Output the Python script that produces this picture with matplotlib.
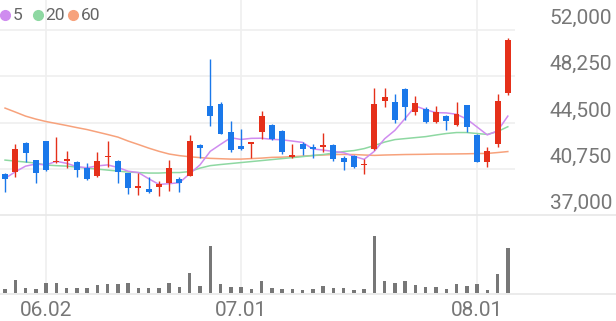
import numpy as np
import pandas as pd
import matplotlib
matplotlib.use('Agg')
import matplotlib.pyplot as plt
from matplotlib.lines import Line2D

plt.rcParams['font.family'] = ['Roboto', 'DejaVu Sans']

# trading days (MM.DD), 2025-05-27 .. 2025-08-06
dates = ['05.27', '05.28', '05.29', '05.30',
         '06.02', '06.04', '06.05', '06.09', '06.10', '06.11', '06.12', '06.13',
         '06.16', '06.17', '06.18', '06.19', '06.20', '06.23', '06.24', '06.25',
         '06.26', '06.27', '06.30',
         '07.01', '07.02', '07.03', '07.04', '07.07', '07.08', '07.09', '07.10',
         '07.11', '07.14', '07.15', '07.16', '07.17', '07.18', '07.21', '07.22',
         '07.23', '07.24', '07.25', '07.28', '07.29', '07.30', '07.31',
         '08.01', '08.04', '08.05', '08.06']
tick_labels = ['06.02', '07.01', '08.01']

opens = [40350, 40500, 42850, 41450, 43000, 41300, 41400, 41350, 40800, 40150,
         41700, 41400, 40400, 39250, 39100, 39300, 39600, 39900, 40200, 42700,
         45850, 46050, 43750, 42650, 42750, 43750, 44350, 43850, 41700, 42750,
         42500, 42500, 42700, 41650, 41800, 41050, 42350, 46250, 46200, 47200,
         45400, 45600, 44550, 45050, 44300, 45900, 43500, 41350, 42800, 46900]
highs = [40400, 42750, 42900, 41500, 43050, 43300, 42200, 41400, 41200, 42100,
         43050, 41450, 40450, 40400, 40100, 39750, 41450, 40100, 43500, 42750,
         49650, 46150, 44650, 43950, 42950, 45450, 44400, 43900, 42750, 42950,
         42750, 43650, 42750, 41800, 41850, 41550, 47300, 47300, 46800, 47300,
         46650, 45750, 45850, 45100, 46200, 45950, 43550, 42500, 46800, 51350]
lows = [38900, 40100, 41300, 39600, 40600, 41250, 40800, 40100, 39850, 40100,
        40900, 39650, 38700, 38650, 38800, 38550, 38950, 38900, 40150, 41600,
        44200, 43550, 42150, 42300, 41600, 43150, 43100, 41950, 41650, 41900,
        41600, 42100, 41400, 40650, 40850, 40350, 42300, 45750, 44450, 44750,
        45100, 44500, 44450, 43900, 44250, 43750, 41300, 40950, 42550, 46700]
closes = [39950, 42350, 42050, 40400, 40650, 41400, 41550, 40700, 39950, 41400,
          41800, 40500, 39200, 39400, 38900, 39500, 40800, 39600, 43050, 42450,
          45000, 43600, 42300, 42350, 42900, 45050, 43150, 42100, 41850, 42350,
          42400, 42700, 41550, 41350, 40900, 41150, 46000, 46600, 44750, 45750,
          46100, 44550, 45400, 44650, 45200, 44150, 41350, 42200, 46250, 51200]
volumes = [43, 133, 50, 43, 100, 100, 57, 50, 50, 83,
           93, 93, 100, 50, 50, 57, 100, 60, 200, 73,
           473, 93, 67, 67, 47, 123, 57, 40, 40, 30,
           47, 73, 50, 50, 33, 43, 577, 127, 107, 127,
           87, 60, 60, 40, 93, 70, 90, 33, 193, 450]

# moving averages as drawn (earlier history not shown on the chart)
ma5_start = [39990, 40520, 40980, 41150]
ma20 = [41470, 41390, 41310, 41230, 41070, 41020, 40980, 40900, 40820, 40740,
        40660, 40580, 40500, 40460, 40420, 40420, 40460, 40460, 40540, 40820,
        41020, 41110, 41190, 41270, 41350, 41430, 41510, 41590, 41670, 41750,
        41840, 41920, 42040, 42160, 42240, 42400, 42650, 42930, 43130, 43210,
        43290, 43370, 43500, 43620, 43700, 43700, 43620, 43550, 43780, 44170]
ma60 = [45680, 45360, 45030, 44790, 44590, 44430, 44270, 44100, 43940, 43740,
        43540, 43330, 43010, 42730, 42440, 42180, 41960, 41830, 41740, 41670,
        41610, 41580, 41550, 41550, 41590, 41630, 41690, 41710, 41750, 41790,
        41840, 41880, 41920, 41930, 41920, 41880, 41850, 41880, 41900, 41920,
        41930, 41940, 41960, 41960, 41970, 41980, 42000, 42010, 42080, 42160]
price_ticks = [52000, 48250, 44500, 40750, 37000]

RED = '#e5301a'
BLUE = '#1a78ea'
C5, C20, C60 = '#cf8cef', '#8ed8a2', '#f7a27c'
GRID = '#efefef'
TXT = '#777777'

df = pd.DataFrame({'open': opens, 'high': highs, 'low': lows, 'close': closes,
                   'volume': volumes}, index=dates)
ma5 = df['close'].rolling(5).mean().to_numpy()
ma5[:4] = ma5_start
x = np.arange(len(df))
up = df['close'] >= df['open']
colors = np.where(up, RED, BLUE)
tick_pos = [dates.index(t) for t in tick_labels]

W, H = 616, 321
fig = plt.figure(figsize=(W / 100, H / 100), dpi=100)
ax = fig.add_axes([0, (H - 215.3) / H, 515 / W, 215.3 / H])
axv = fig.add_axes([0, (H - 293.3) / H, 515 / W, 79.3 / H])

xlim = (-0.49, 49.7)
for a in (ax, axv):
    a.set_xlim(*xlim)
    for s in a.spines.values():
        s.set_visible(False)
    a.set_xticks([])
    a.set_yticks([])
    for p in tick_pos:
        a.axvline(p, color=GRID, lw=1.2, zorder=0)

ax.set_ylim(37000, 54430)
for v in price_ticks[:-1]:
    ax.axhline(v, color=GRID, lw=1.2, zorder=0)
for v in price_ticks:
    ax.annotate(f'{v:,}', xy=(1, v), xycoords=('axes fraction', 'data'),
                xytext=(70, 4.5), textcoords='offset points', ha='right',
                va='baseline', fontsize=15, color=TXT)

# MA lines
ax.plot(x, ma60, color=C60, lw=1.1, zorder=1)
ax.plot(x, ma20, color=C20, lw=1.1, zorder=1)
ax.plot(x, ma5, color=C5, lw=1.1, zorder=1)

# candles
body_lo = np.minimum(df['open'], df['close'])
body_h = np.maximum(np.abs(df['close'] - df['open']), 110)
ax.vlines(x, df['low'], df['high'], colors=colors, lw=1.0, zorder=2)
ax.bar(x, body_h, bottom=body_lo, width=0.58, color=colors, zorder=3)

# volume
axv.bar(x, df['volume'], width=0.34, color='#777777', zorder=2)
axv.set_ylim(0, max(volumes) * 1.375)
for p, lab in zip(tick_pos, tick_labels):
    axv.annotate(lab, xy=(p, 0), xytext=(0, -16.5), textcoords='offset points',
                 ha='center', va='baseline', fontsize=15, color=TXT)

# full-width separators
fig.add_artist(Line2D([0, 1], [(H - 214.5) / H] * 2, color='#e8e8e8', lw=1.2))
fig.add_artist(Line2D([0, 1], [(H - 293.5) / H] * 2, color='#e8e8e8', lw=1.2))

# legend
ly = (H - 15) / H
for cx, tx, col, lab in [(5, 12.5, C5, '5'), (38, 45.5, C20, '20'), (73, 80.5, C60, '60')]:
    fig.add_artist(Line2D([cx / W], [ly], marker='o', ms=7, color=col, lw=0))
    fig.text(tx / W, ly, lab, fontsize=12.5, color='#666666', va='center', ha='left')

fig.savefig('out.png', dpi=100)
